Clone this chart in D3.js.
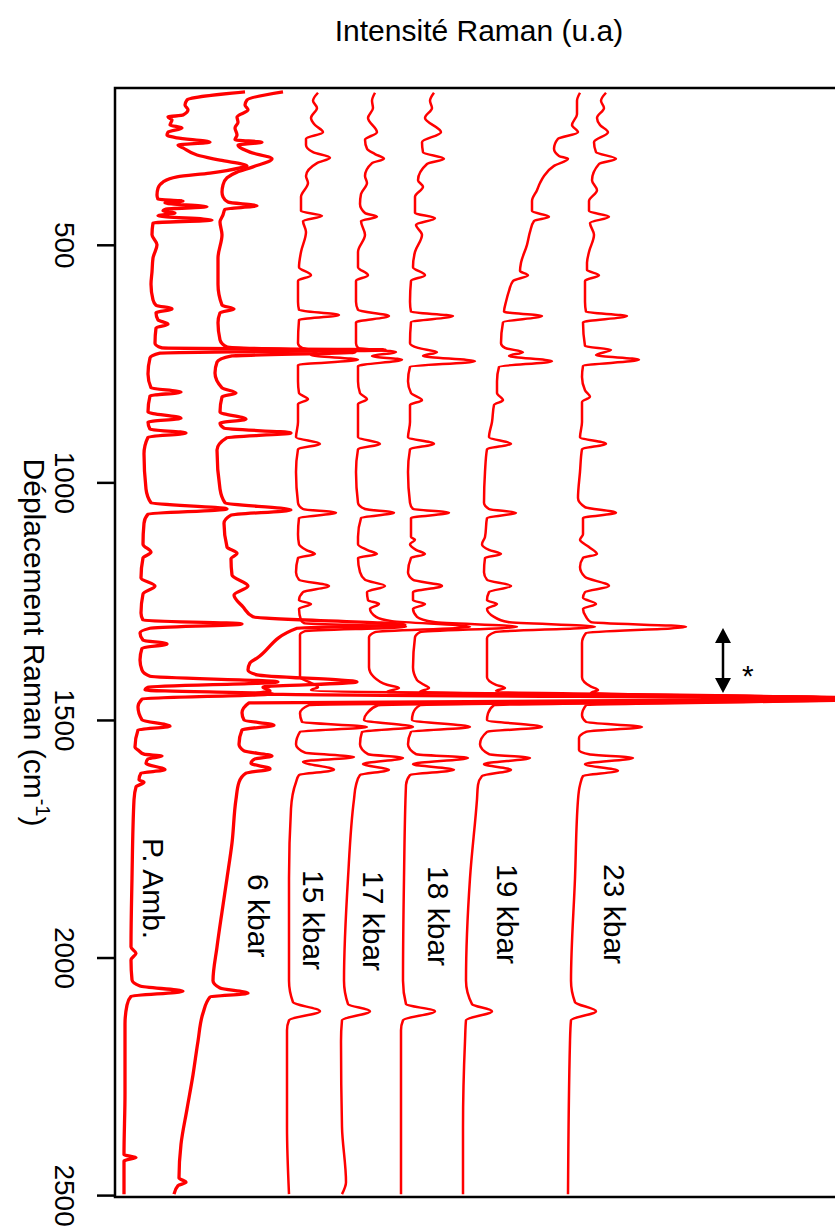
<!DOCTYPE html>
<html>
<head>
<meta charset="utf-8">
<script src="https://cdn.jsdelivr.net/npm/d3@7"></script>
<style>
  body { margin: 0; background: #fff; }
  text { font-family: "Liberation Sans", Arial, Helvetica, sans-serif; fill: #000; }
</style>
</head>
<body>
<svg id="chart" width="835" height="1229"></svg>
<script>
// Raman shift (cm-1) ticks
const shiftTicks = [500, 1000, 1500, 2000, 2500];

// Spectrum names, in stacking order
const specNames = ["P. Amb.", "6 kbar", "15 kbar", "17 kbar", "18 kbar", "19 kbar", "23 kbar"];

// Each spectrum: [Raman shift (cm-1), intensity (u.a.)]
const pAmb = [[178,130],[195,72],[206,70],[216,73],[227,68],[231,53],[237,57],[248,55],[254,67],[263,53],[269,52],[275,62],[284,95],[290,63],[296,68],[311,82],[322,105],[334,132],[338,125],[349,95],[357,62],[368,48],[381,43],[395,42],[404,43],[408,68],[412,50],[420,92],[425,51],[429,48],[433,60],[439,43],[448,97],[454,38],[479,37],[500,42],[528,38],[557,37],[583,36],[616,38],[627,41],[635,57],[643,41],[658,43],[667,53],[675,41],[707,40],[717,47],[721,270],[728,45],[738,35],[772,33],[801,36],[810,66],[818,35],[852,33],[865,66],[873,33],[888,35],[896,71],[905,33],[940,29],[1014,31],[1043,36],[1056,112],[1067,33],[1086,29],[1130,28],[1147,36],[1159,28],[1201,26],[1218,40],[1235,28],[1275,26],[1290,28],[1298,127],[1307,35],[1317,25],[1332,28],[1340,52],[1349,27],[1374,25],[1395,27],[1408,35],[1420,163],[1431,33],[1437,30],[1445,158],[1456,27],[1473,23],[1500,27],[1513,55],[1521,23],[1557,20],[1565,24],[1572,29],[1576,47],[1582,33],[1591,31],[1605,50],[1612,26],[1626,24],[1631,29],[1641,21],[1668,19],[1833,17],[1978,16],[1991,21],[2005,16],[2047,17],[2060,25],[2071,68],[2082,16],[2100,12],[2140,10],[2285,10],[2415,9],[2421,21],[2428,9],[2498,9]];

const kbar6 = [[178,168],[195,132],[206,130],[216,133],[231,122],[242,123],[254,120],[269,122],[279,120],[284,147],[290,123],[305,135],[319,157],[336,138],[347,122],[359,112],[374,108],[389,107],[399,108],[410,113],[418,142],[425,110],[437,108],[452,105],[479,107],[528,103],[583,103],[627,107],[635,119],[643,105],[664,103],[700,105],[715,112],[726,240],[734,117],[747,102],[770,100],[801,107],[812,121],[820,107],[852,105],[867,131],[875,105],[886,109],[896,176],[906,112],[932,102],[1014,105],[1043,110],[1058,176],[1069,116],[1086,109],[1136,112],[1149,122],[1161,116],[1195,117],[1218,133],[1237,119],[1262,128],[1283,138],[1300,290],[1307,182],[1370,142],[1380,135],[1395,133],[1405,142],[1420,242],[1431,148],[1439,155],[1445,140],[1456,785],[1464,134],[1485,127],[1500,129],[1511,159],[1521,127],[1551,124],[1565,129],[1576,157],[1582,140],[1591,136],[1603,155],[1612,131],[1631,124],[1667,121],[1759,117],[1833,112],[1904,107],[1978,102],[2049,98],[2064,105],[2075,133],[2083,95],[2117,88],[2176,83],[2247,78],[2319,72],[2393,66],[2464,64],[2473,71],[2480,63],[2498,59]];

const kbar15 = [[180,203],[197,198],[212,202],[233,196],[248,200],[263,208],[277,191],[290,191],[305,198],[317,215],[328,202],[355,191],[370,193],[399,186],[429,186],[439,207],[450,188],[473,191],[515,186],[547,184],[564,196],[576,183],[620,183],[637,184],[648,224],[658,184],[707,183],[717,187],[724,202],[732,196],[742,243],[753,183],[787,183],[812,184],[825,193],[835,183],[873,183],[905,181],[919,205],[930,183],[978,181],[1043,183],[1056,188],[1064,221],[1075,184],[1109,183],[1130,184],[1142,191],[1151,200],[1159,183],[1189,181],[1205,184],[1218,214],[1231,188],[1248,184],[1256,196],[1266,184],[1290,186],[1296,189],[1304,291],[1313,190],[1321,185],[1410,185],[1420,194],[1431,203],[1437,196],[1456,785],[1469,194],[1486,185],[1504,187],[1515,252],[1525,185],[1551,181],[1569,190],[1578,239],[1588,188],[1605,219],[1616,184],[1631,181],[1687,176],[1833,174],[2049,174],[2094,178],[2113,205],[2132,174],[2153,172],[2357,172],[2498,174]];

const kbar17 = [[180,260],[197,257],[212,258],[233,253],[263,262],[279,250],[298,252],[309,260],[319,269],[328,257],[355,250],[370,252],[393,246],[414,245],[433,250],[441,262],[450,246],[479,250],[515,243],[547,243],[564,253],[576,241],[620,241],[637,243],[650,274],[663,241],[707,241],[717,243],[726,281],[734,257],[742,287],[755,243],[787,243],[812,245],[825,252],[835,243],[873,243],[905,243],[919,265],[930,243],[978,241],[1043,243],[1056,250],[1064,279],[1075,246],[1115,243],[1130,243],[1142,252],[1151,262],[1159,243],[1189,245],[1205,250],[1218,270],[1231,252],[1248,253],[1256,264],[1266,255],[1283,261],[1292,277],[1304,355],[1315,260],[1326,254],[1389,254],[1410,259],[1426,272],[1433,284],[1441,272],[1456,785],[1469,263],[1486,252],[1500,249],[1515,298],[1525,247],[1551,245],[1572,253],[1580,288],[1593,248],[1605,274],[1616,245],[1637,241],[1667,239],[1833,233],[2049,229],[2098,233],[2113,255],[2132,227],[2176,226],[2357,227],[2473,231],[2498,227]];

const kbar18 = [[180,319],[197,315],[212,317],[233,310],[263,326],[284,307],[305,308],[319,329],[330,312],[364,303],[378,308],[399,300],[433,300],[444,320],[458,301],[479,307],[515,300],[547,298],[564,310],[576,296],[620,295],[641,296],[650,338],[663,296],[707,295],[717,303],[726,322],[734,308],[745,360],[757,295],[787,293],[812,296],[827,307],[837,295],[873,295],[905,293],[919,319],[930,295],[978,293],[1043,295],[1056,298],[1064,334],[1075,296],[1115,296],[1121,300],[1130,295],[1142,301],[1151,310],[1159,296],[1189,293],[1205,298],[1218,327],[1231,298],[1248,298],[1256,310],[1266,298],[1283,302],[1294,319],[1304,402],[1315,305],[1326,300],[1389,298],[1416,302],[1426,309],[1433,314],[1441,305],[1456,785],[1469,305],[1486,298],[1500,297],[1515,355],[1525,296],[1551,293],[1572,301],[1580,353],[1593,298],[1605,339],[1616,295],[1637,291],[1833,289],[2049,288],[2098,291],[2113,320],[2132,288],[2153,286],[2498,286]];

const kbar19 = [[180,465],[197,462],[225,462],[248,457],[263,463],[277,443],[298,439],[313,444],[319,453],[334,439],[355,429],[370,425],[385,422],[408,417],[429,417],[441,434],[450,419],[473,415],[500,412],[538,406],[555,405],[564,413],[576,398],[597,394],[620,391],[641,389],[650,427],[663,388],[707,386],[717,390],[726,408],[734,394],[745,437],[757,384],[787,382],[812,382],[827,388],[837,379],[873,377],[905,374],[919,396],[930,372],[978,370],[1043,369],[1056,374],[1064,401],[1075,372],[1115,370],[1130,367],[1142,374],[1151,386],[1159,370],[1189,369],[1205,372],[1218,396],[1231,374],[1248,372],[1256,382],[1266,372],[1283,379],[1294,393],[1304,480],[1315,380],[1328,372],[1410,372],[1426,381],[1433,390],[1439,381],[1456,785],[1469,379],[1486,373],[1500,372],[1515,427],[1525,372],[1551,365],[1572,374],[1580,415],[1593,369],[1605,396],[1618,367],[1637,363],[1667,362],[1833,355],[2049,351],[2098,357],[2113,377],[2132,351],[2176,350],[2357,348],[2498,348]];

const kbar23 = [[180,491],[197,486],[212,489],[233,482],[248,485],[263,493],[284,479],[305,481],[319,501],[330,484],[364,477],[385,482],[408,474],[429,474],[441,494],[454,475],[479,479],[515,474],[538,472],[553,472],[564,484],[576,470],[620,470],[641,471],[650,512],[663,468],[713,470],[721,496],[732,481],[742,524],[755,468],[778,467],[806,470],[820,475],[831,467],[873,467],[905,465],[919,491],[930,467],[978,465],[1033,463],[1052,470],[1064,501],[1075,468],[1109,468],[1121,465],[1136,474],[1151,482],[1159,468],[1178,465],[1199,470],[1218,494],[1231,470],[1243,468],[1256,481],[1266,468],[1283,471],[1294,476],[1304,571],[1317,471],[1338,467],[1410,467],[1430,476],[1437,483],[1443,476],[1456,785],[1469,471],[1490,467],[1504,471],[1515,527],[1525,471],[1538,464],[1563,464],[1572,474],[1580,518],[1593,470],[1607,503],[1618,468],[1637,465],[1668,463],[1833,460],[2049,456],[2094,460],[2113,481],[2132,456],[2176,455],[2498,453]];

const spectra = [pAmb, kbar6, kbar15, kbar17, kbar18, kbar19, kbar23];

// ---- layout ----
const plot = { left: 115, top: 88, right: 835, bottom: 1197 };

const svg = d3.select("#chart");

const y = d3.scaleLinear().domain([170, 2504]).range([plot.top, plot.bottom]);
const x = d3.scaleLinear().domain([0, 720]).range([plot.left, plot.right]);

svg.append("defs").append("clipPath").attr("id", "plotClip")
  .append("rect")
  .attr("x", plot.left).attr("y", plot.top)
  .attr("width", plot.right - plot.left).attr("height", plot.bottom - plot.top);

// spectra drawn vertically: shift runs down, intensity to the right
const line = d3.line()
  .x(d => x(d[1]))
  .y(d => y(d[0]))
  .curve(d3.curveMonotoneY);

// the two low-pressure spectra are the grainiest ones
const noisy = [true, true, false, false, false, false, false];

const gSpec = svg.append("g").attr("clip-path", "url(#plotClip)");
spectra.forEach((s, i) => {
  gSpec.append("path")
    .datum(s)
    .attr("d", line)
    .attr("fill", "none")
    .attr("stroke", "#ff0000")
    .attr("stroke-width", noisy[i] ? 3.3 : 2.5)
    .attr("stroke-linejoin", "round");
});

// frame (left, top, bottom)
svg.append("path")
  .attr("d", `M${plot.right},${plot.top}H${plot.left}V${plot.bottom}H${plot.right}`)
  .attr("fill", "none").attr("stroke", "#000").attr("stroke-width", 2.5);

// shift axis with labels turned a quarter turn
const axis = d3.axisLeft(y).tickValues(shiftTicks).tickFormat(d3.format("d"))
  .tickSize(18).tickSizeOuter(0);
const ag = svg.append("g").attr("transform", `translate(${plot.left},0)`).call(axis);
ag.select(".domain").remove();
ag.selectAll(".tick line").attr("stroke", "#000").attr("stroke-width", 2.5);
ag.selectAll(".tick text")
  .attr("transform", "rotate(90)")
  .attr("x", 0).attr("y", 60).attr("dy", 0)
  .attr("text-anchor", "middle")
  .attr("font-size", 28)
  .attr("fill", "#000");

// axis titles
const yTitle = svg.append("text")
  .attr("transform", `translate(24,${(plot.top + plot.bottom) / 2}) rotate(90)`)
  .attr("text-anchor", "middle")
  .attr("font-size", 30);
yTitle.append("tspan").text("Déplacement Raman (cm");
yTitle.append("tspan").attr("font-size", 20).attr("dy", -12).text("-1");
yTitle.append("tspan").attr("dy", 12).text(")");

svg.append("text")
  .attr("x", 479).attr("y", 41)
  .attr("text-anchor", "middle")
  .attr("font-size", 30)
  .text("Intensité Raman (u.a)");

// spectrum names
const labelPos = [[143, 838], [248, 874], [303, 870], [363, 871], [428, 866], [497, 864], [604, 864]];
specNames.forEach((name, i) => {
  svg.append("text")
    .attr("transform", `translate(${labelPos[i][0]},${labelPos[i][1]}) rotate(90)`)
    .attr("font-size", 30)
    .text(name);
});

// double arrow marking the excluded diamond band
const ax = 723, aTop = 628, aBot = 693;
svg.append("line").attr("x1", ax).attr("x2", ax).attr("y1", aTop + 10).attr("y2", aBot - 10)
  .attr("stroke", "#000").attr("stroke-width", 2.5);
svg.append("path").attr("d", `M${ax},${aTop}L${ax - 8},${aTop + 15}L${ax + 8},${aTop + 15}Z`).attr("fill", "#000");
svg.append("path").attr("d", `M${ax},${aBot}L${ax - 8},${aBot - 15}L${ax + 8},${aBot - 15}Z`).attr("fill", "#000");
svg.append("text").attr("x", 742).attr("y", 686).attr("font-size", 30).text("*");
</script>
</body>
</html>
